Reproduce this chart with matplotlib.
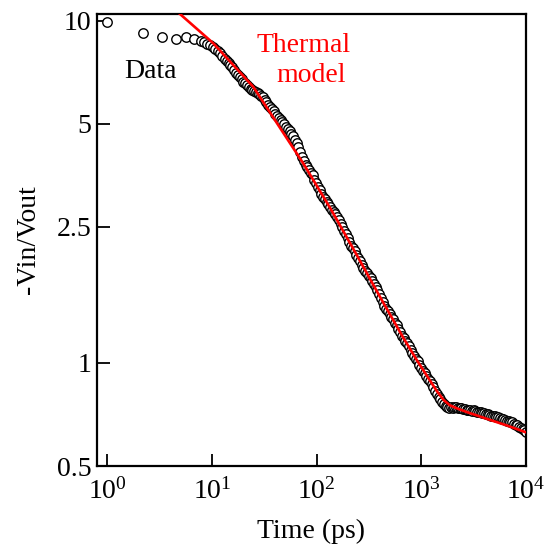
import matplotlib
matplotlib.use("Agg")
import matplotlib.pyplot as plt
from matplotlib.ticker import FixedLocator, FixedFormatter, NullLocator, LogFormatterMathtext

plt.rcParams['font.family'] = ['Liberation Serif', 'DejaVu Serif']
plt.rcParams['mathtext.fontset'] = 'custom'
plt.rcParams['mathtext.rm'] = 'Liberation Serif'
plt.rcParams['mathtext.it'] = 'Liberation Serif:italic'

# ---- data ----
time_ps = [1.0, 2.2, 3.35, 4.5, 5.6, 6.8, 7.9, 8.45, 9.0, 9.6, 10.2, 10.8, 11.4, 12.0,
           12.6, 13.2, 13.8, 14.4, 15.0, 15.6, 16.3, 17.0, 17.7, 18.4, 19.2, 20.0,
           20.8, 21.6, 22.5, 23.4, 24.3, 25.3, 26.3, 27.3, 28.4, 29.5, 30.7, 31.9,
           33.2, 34.5, 35.9, 37.3, 38.8, 40.4, 42, 43.7, 45.4, 47.2, 49.1, 51.1, 53.1,
           55.2, 57.4, 59.7, 62, 64.5, 67, 69.6, 72.4, 75.3, 78.3, 81.4, 84.6, 88,
           91.5, 95.1, 98.9, 102.9, 107, 111.2, 115.5, 120, 124.7, 129.6, 134.7, 140,
           145.5, 151, 157, 163.4, 170, 176.6, 183.5, 190.6, 198, 205.8, 214, 222.3,
           231, 240.3, 250, 259.8, 270, 280.3, 291, 302.8, 315, 327.3, 340, 353.2,
           367, 381.2, 396, 411.7, 428, 444.7, 462, 480.1, 499, 518.6, 539, 560.1,
           582, 605, 629, 653.5, 679, 705.5, 733, 761.9, 792, 823, 855, 888.7, 924,
           960.3, 998, 1037, 1078, 1120, 1164, 1210, 1257, 1307, 1358, 1411, 1466,
           1524, 1584, 1646, 1710, 1777, 1847, 1920, 1995, 2073, 2155, 2239, 2327,
           2418, 2513, 2612, 2714, 2820, 2931, 3046, 3166, 3290, 3419, 3553, 3692,
           3837, 3988, 4145, 4307, 4476, 4651, 4833, 5023, 5220, 5425, 5638, 5859,
           6089, 6328, 6576, 6834, 7102, 7381, 7670, 7971, 8284, 8609, 8947, 9298,
           9594, 9900]
ratio = [9.9, 9.2, 8.96, 8.86, 8.96, 8.86, 8.72, 8.66, 8.56, 8.49, 8.39, 8.27, 8.13, 8.02,
         7.89, 7.74, 7.63, 7.53, 7.40, 7.30, 7.16, 7.03, 6.94, 6.86, 6.74, 6.63,
         6.56, 6.50, 6.41, 6.33, 6.29, 6.24, 6.18, 6.16, 6.11, 6.04, 5.98, 5.88,
         5.77, 5.66, 5.59, 5.52, 5.43, 5.35, 5.28, 5.20, 5.12, 5.06, 4.98, 4.90, 4.83,
         4.76, 4.68, 4.60, 4.49, 4.38, 4.28, 4.12, 4.00, 3.88, 3.80, 3.74, 3.67, 3.60,
         3.53, 3.43, 3.35, 3.27, 3.21, 3.12, 3.05, 3.01, 2.96, 2.91, 2.86, 2.80,
         2.76, 2.72, 2.67, 2.61, 2.55, 2.49, 2.43, 2.38, 2.32, 2.26, 2.20, 2.17,
         2.13, 2.07, 2.02, 1.98, 1.93, 1.90, 1.86, 1.83, 1.80, 1.77, 1.73, 1.70,
         1.67, 1.63, 1.59, 1.55, 1.51, 1.47, 1.44, 1.42, 1.39, 1.36, 1.34, 1.31,
         1.29, 1.26, 1.23, 1.20, 1.18, 1.16, 1.14, 1.12, 1.09, 1.07, 1.05, 1.03, 1.01,
         0.985, 0.964, 0.950, 0.934, 0.916, 0.899, 0.883, 0.867, 0.848, 0.830, 0.814,
         0.798, 0.783, 0.769, 0.760, 0.750, 0.746, 0.740, 0.742, 0.741, 0.744, 0.743,
         0.740, 0.741, 0.738, 0.735, 0.732, 0.729, 0.730, 0.728, 0.724, 0.727, 0.725,
         0.721, 0.718, 0.720, 0.716, 0.715, 0.711, 0.709, 0.705, 0.699, 0.700, 0.699,
         0.695, 0.693, 0.690, 0.687, 0.684, 0.682, 0.679, 0.676, 0.674, 0.671, 0.665,
         0.661, 0.657, 0.651, 0.645, 0.641, 0.636, 0.628]

model_t = [3.97, 4.95, 10.3, 24.8, 55.6, 74.5, 139, 241, 403, 667, 908, 1156, 1409,
           1643, 1876, 2234, 2710, 4200, 6530, 10000]
model_v = [11.1, 10.46, 8.59, 6.41, 4.39, 3.83, 2.79, 2.07, 1.56, 1.19, 1.018, 0.908,
           0.827, 0.778, 0.752, 0.735, 0.719, 0.687, 0.657, 0.627]

y_ticks = [0.5, 1, 2.5, 5, 10]
y_ticklabels = ["0.5", "1", "2.5", "5", "10"]
x_ticks = [1, 10, 100, 1000, 10000]

W, H = 546, 550
fig = plt.figure(figsize=(W / 100, H / 100), dpi=100)
ax = fig.add_axes([97 / W, 1 - 466 / H, (526 - 97) / W, (466 - 14) / H])

ax.plot(time_ps, ratio, linestyle='none', marker='o', markersize=6.8,
        markerfacecolor='white', markeredgecolor='black', markeredgewidth=1.0, zorder=2)
ax.plot(model_t, model_v, color='#ff0000', linewidth=1.9, zorder=3)

ax.set_xscale('log')
ax.set_yscale('log')
ax.set_xlim(0.798, 10000)
ax.set_ylim(0.5, 10.46)

ax.xaxis.set_major_locator(FixedLocator(x_ticks))
ax.xaxis.set_major_formatter(LogFormatterMathtext())
ax.xaxis.set_minor_locator(NullLocator())
ax.yaxis.set_major_locator(FixedLocator(y_ticks))
ax.yaxis.set_major_formatter(FixedFormatter(y_ticklabels))
ax.yaxis.set_minor_locator(NullLocator())

ax.tick_params(axis='both', which='major', direction='in', length=9, width=1.3,
               labelsize=20, top=False, right=False, pad=4)
ax.tick_params(axis='x', pad=9)
for s in ax.spines.values():
    s.set_linewidth(1.6)

fig.text(311 / W, 1 - 538 / H, "Time (ps)", ha='center', va='baseline', fontsize=20)
fig.text(28 / W, 1 - 240 / H, "-Vin/Vout", ha='center', va='center', rotation=90,
         fontsize=20)

fig.text(150 / W, 1 - 78 / H, "Data", ha='center', va='baseline', fontsize=20,
         color='black')
fig.text(304 / W, 1 - 51.7 / H, "Thermal", ha='center', va='baseline', fontsize=20,
         color='#ff0000')
fig.text(311 / W, 1 - 81.7 / H, "model", ha='center', va='baseline', fontsize=20,
         color='#ff0000')

fig.savefig("out.png", dpi=100)
